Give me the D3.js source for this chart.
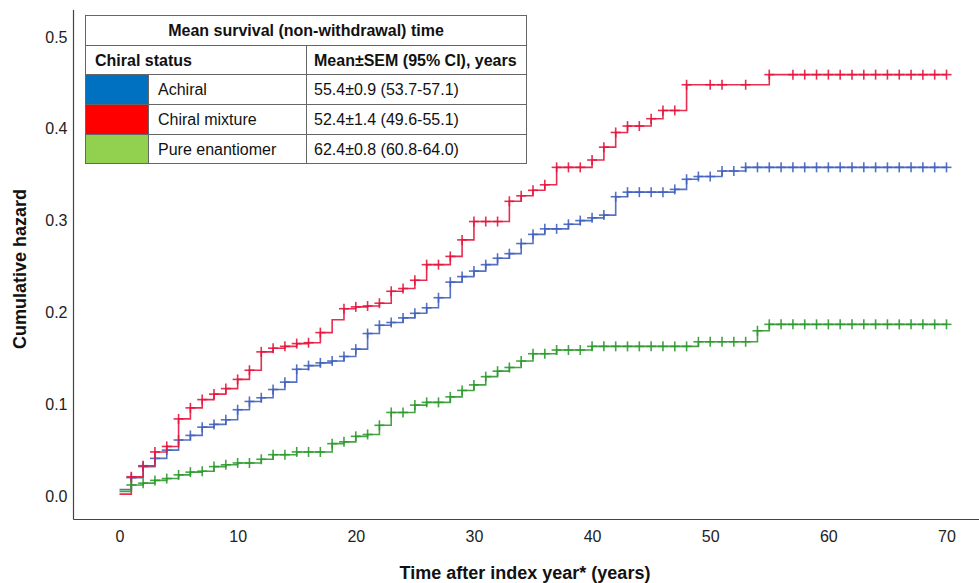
<!DOCTYPE html>
<html>
<head>
<meta charset="utf-8">
<script src="https://cdn.jsdelivr.net/npm/d3@7"></script>
<style>
  html, body { margin: 0; padding: 0; background: #fff; }
  svg { display: block; font-family: "Liberation Sans", Arial, sans-serif; }
</style>
</head>
<body>
<svg id="chart" width="979" height="583"></svg>
<script>
// ---------- data ----------
const years = d3.range(0, 71);
const xTicks = [0, 10, 20, 30, 40, 50, 60, 70];
const yTicks = [0.0, 0.1, 0.2, 0.3, 0.4, 0.5];

const seriesNames = ["Achiral", "Chiral mixture", "Pure enantiomer"];
const seriesStats = ["55.4±0.9 (53.7-57.1)", "52.4±1.4 (49.6-55.1)", "62.4±0.8 (60.8-64.0)"];

// cumulative hazard at each year 0..70
const achiral = [
  0.007, 0.020, 0.032, 0.041, 0.050, 0.061, 0.066, 0.075, 0.078, 0.083,
  0.094, 0.103, 0.107, 0.116, 0.124, 0.138, 0.142, 0.145, 0.147, 0.152,
  0.160, 0.177, 0.186, 0.189, 0.194, 0.199, 0.205, 0.216, 0.233, 0.239,
  0.245, 0.252, 0.259, 0.264, 0.275, 0.285, 0.291, 0.291, 0.296, 0.300,
  0.303, 0.306, 0.326, 0.331, 0.331, 0.331, 0.331, 0.334, 0.345, 0.348,
  0.348, 0.354, 0.354, 0.358, 0.358, 0.358, 0.358, 0.358, 0.358, 0.358,
  0.358, 0.358, 0.358, 0.358, 0.358, 0.358, 0.358, 0.358, 0.358, 0.358,
  0.358
];
const chiralMixture = [
  0.002, 0.021, 0.033, 0.048, 0.054, 0.084, 0.096, 0.105, 0.111, 0.117,
  0.127, 0.137, 0.157, 0.161, 0.163, 0.166, 0.167, 0.178, 0.192, 0.204,
  0.206, 0.207, 0.210, 0.223, 0.226, 0.235, 0.252, 0.252, 0.261, 0.279,
  0.299, 0.299, 0.299, 0.321, 0.327, 0.333, 0.339, 0.358, 0.358, 0.358,
  0.366, 0.380, 0.396, 0.403, 0.403, 0.411, 0.420, 0.420, 0.448, 0.448,
  0.448, 0.448, 0.448, 0.448, 0.448, 0.459, 0.459, 0.459, 0.459, 0.459,
  0.459, 0.459, 0.459, 0.459, 0.459, 0.459, 0.459, 0.459, 0.459, 0.459,
  0.459
];
const pureEnantiomer = [
  0.005, 0.012, 0.014, 0.017, 0.019, 0.023, 0.026, 0.027, 0.032, 0.034,
  0.036, 0.036, 0.040, 0.045, 0.045, 0.048, 0.048, 0.048, 0.057, 0.059,
  0.065, 0.067, 0.077, 0.091, 0.091, 0.099, 0.102, 0.102, 0.108, 0.115,
  0.121, 0.130, 0.136, 0.140, 0.147, 0.155, 0.155, 0.159, 0.159, 0.159,
  0.163, 0.163, 0.163, 0.163, 0.163, 0.163, 0.163, 0.163, 0.163, 0.168,
  0.168, 0.168, 0.168, 0.168, 0.180, 0.187, 0.187, 0.187, 0.187, 0.187,
  0.187, 0.187, 0.187, 0.187, 0.187, 0.187, 0.187, 0.187, 0.187, 0.187,
  0.187
];
// years without a censoring mark
const achiralNoMark = [0];
const chiralMixtureNoMark = [0, 18, 49, 52, 54, 56];
const pureEnantiomerNoMark = [0];

const lineColors = ["#4262BD", "#E4163E", "#2F9A2F"];
const swatchColors = ["#0070C0", "#FF0000", "#92D050"];

const series = [
  { name: seriesNames[0], values: achiral, noMark: achiralNoMark, color: lineColors[0] },
  { name: seriesNames[1], values: chiralMixture, noMark: chiralMixtureNoMark, color: lineColors[1] },
  { name: seriesNames[2], values: pureEnantiomer, noMark: pureEnantiomerNoMark, color: lineColors[2] }
];

// ---------- layout ----------
const svg = d3.select("#chart");
const x = d3.scaleLinear().domain([0, 70]).range([119.5, 946.5]);
const y = d3.scaleLinear().domain([0, 0.5]).range([496, 37]);
const axisX = 73.5, axisY = 519.5;

// axes
const gx = svg.append("g").attr("transform", `translate(0,${axisY})`)
  .call(d3.axisBottom(x).tickValues(xTicks).tickSize(0).tickPadding(11).tickFormat(d3.format("d")));
gx.select(".domain").remove();
gx.selectAll("text").attr("font-size", 16).attr("fill", "#222").attr("font-family", "Liberation Sans, Arial, sans-serif");

const gy = svg.append("g").attr("transform", `translate(${axisX},0)`)
  .call(d3.axisLeft(y).tickValues(yTicks).tickSize(0).tickPadding(6).tickFormat(d3.format(".1f")));
gy.select(".domain").remove();
gy.selectAll("text").attr("font-size", 16).attr("fill", "#222").attr("font-family", "Liberation Sans, Arial, sans-serif");

svg.append("line").attr("x1", axisX).attr("x2", axisX).attr("y1", 10).attr("y2", axisY)
  .attr("stroke", "#444").attr("stroke-width", 1.2);
svg.append("line").attr("x1", axisX).attr("x2", 979).attr("y1", axisY).attr("y2", axisY)
  .attr("stroke", "#444").attr("stroke-width", 1.2);

// axis titles
svg.append("text").attr("x", 525).attr("y", 579).attr("text-anchor", "middle")
  .attr("font-size", 18).attr("font-weight", "bold").attr("fill", "#111")
  .text("Time after index year* (years)");
svg.append("text").attr("transform", "translate(25.5,269) rotate(-90)").attr("text-anchor", "middle")
  .attr("font-size", 18).attr("font-weight", "bold").attr("fill", "#111")
  .text("Cumulative hazard");

// curves
const line = d3.line().x((d, i) => x(years[i])).y(d => y(d)).curve(d3.curveStepAfter);
const gLines = svg.append("g");
series.forEach(s => {
  gLines.append("path").attr("d", line(s.values)).attr("fill", "none")
    .attr("stroke", s.color).attr("stroke-width", 1.6).attr("stroke-opacity", 0.9);
  const marks = years.filter(t => !s.noMark.includes(t));
  const g = gLines.append("g").attr("stroke", s.color).attr("stroke-width", 1.6).attr("stroke-opacity", 0.9);
  g.selectAll("line.v").data(marks).join("line")
    .attr("x1", t => x(t)).attr("x2", t => x(t))
    .attr("y1", t => y(s.values[t]) - 5).attr("y2", t => y(s.values[t]) + 5);
  g.selectAll("line.h").data(marks).join("line")
    .attr("x1", t => x(t) - 5).attr("x2", t => x(t) + 5)
    .attr("y1", t => y(s.values[t])).attr("y2", t => y(s.values[t]));
});

// table
const tbl = svg.append("g").attr("font-size", 16).attr("fill", "#111");
const L = 85.5, C1 = 148.5, C2 = 306.5, R = 526.5;
const rows = [15.5, 45.5, 74.5, 104.5, 134.5, 163.5];
tbl.append("rect").attr("x", L).attr("y", rows[0]).attr("width", R - L).attr("height", rows[5] - rows[0])
  .attr("fill", "#fff");
series.forEach((s, i) => {
  tbl.append("rect").attr("x", L).attr("y", rows[i + 2]).attr("width", C1 - L).attr("height", rows[i + 3] - rows[i + 2])
    .attr("fill", swatchColors[i]);
});
const grid = tbl.append("g").attr("stroke", "#666").attr("stroke-width", 1).attr("fill", "none");
grid.append("rect").attr("x", L).attr("y", rows[0]).attr("width", R - L).attr("height", rows[5] - rows[0]);
rows.slice(1, 5).forEach(r => grid.append("line").attr("x1", L).attr("x2", R).attr("y1", r).attr("y2", r));
grid.append("line").attr("x1", C2).attr("x2", C2).attr("y1", rows[1]).attr("y2", rows[5]);
grid.append("line").attr("x1", C1).attr("x2", C1).attr("y1", rows[2]).attr("y2", rows[5]);

tbl.append("text").attr("x", (L + R) / 2).attr("y", 36).attr("text-anchor", "middle").attr("font-weight", "bold")
  .text("Mean survival (non-withdrawal) time");
tbl.append("text").attr("x", 95).attr("y", 66).attr("font-weight", "bold").text("Chiral status");
tbl.append("text").attr("x", 314).attr("y", 66).attr("font-weight", "bold").text("Mean±SEM (95% CI), years");
series.forEach((s, i) => {
  const base = (rows[i + 2] + rows[i + 3]) / 2 + 5.5;
  tbl.append("text").attr("x", 158).attr("y", base).text(s.name);
  tbl.append("text").attr("x", 314).attr("y", base).text(seriesStats[i]);
});
</script>
</body>
</html>
